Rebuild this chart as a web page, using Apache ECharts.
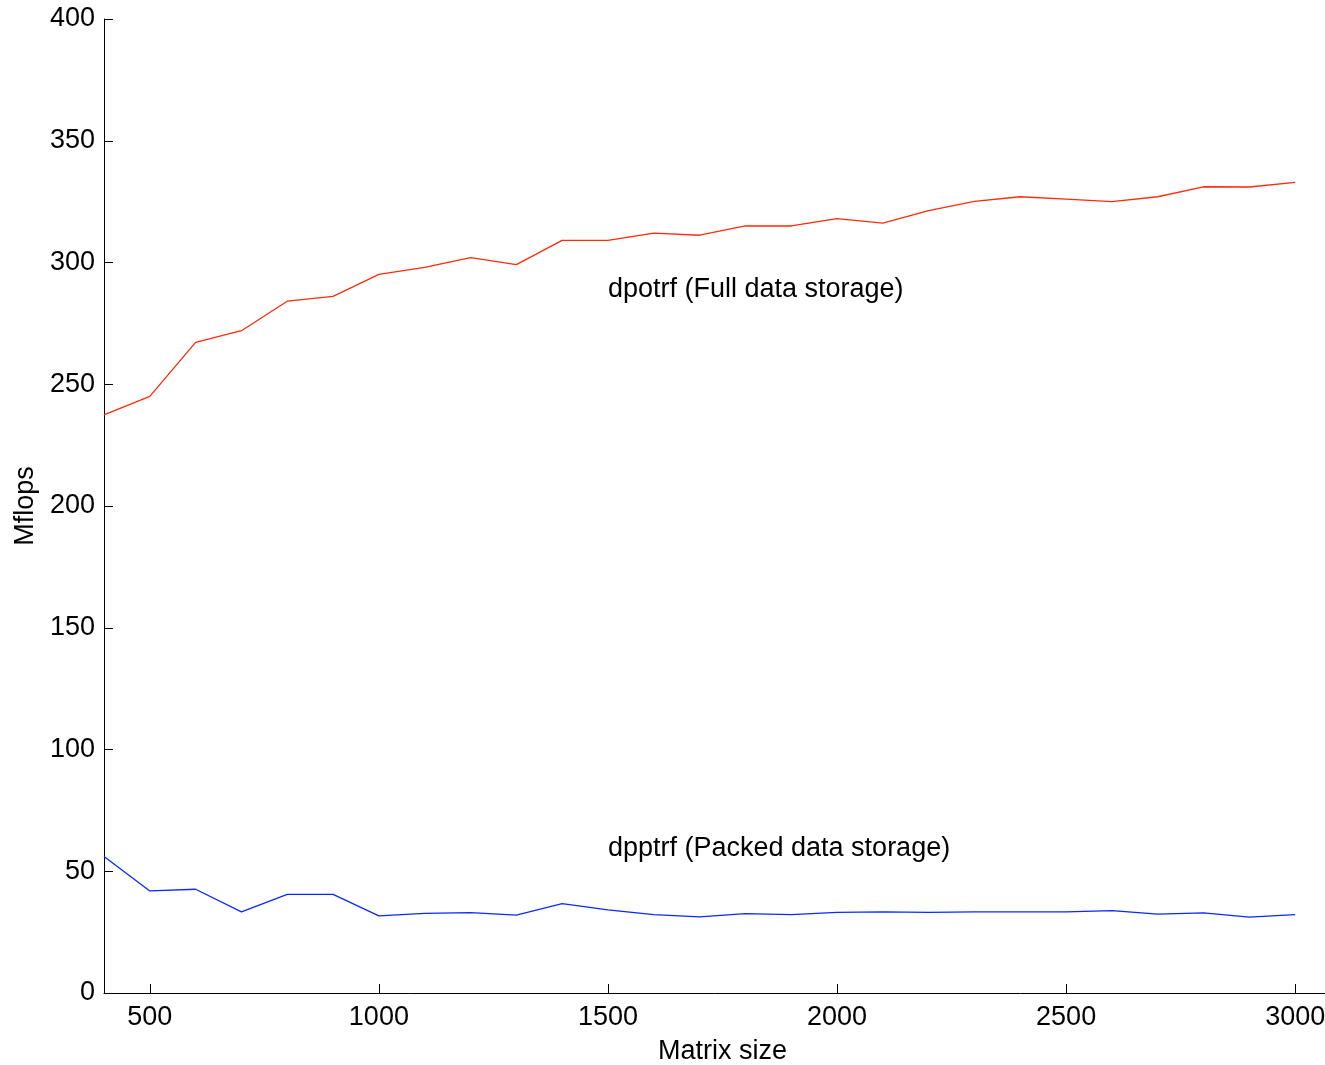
<!DOCTYPE html>
<html>
<head>
<meta charset="utf-8">
<script src="https://cdn.jsdelivr.net/npm/echarts@6/dist/echarts.min.js"></script>
<style>
  html, body { margin: 0; padding: 0; background: #fff; overflow: hidden; }
  #chart { width: 1325px; height: 1065px; }
</style>
</head>
<body>
<div id="chart"></div>
<script>
// Matrix sizes (order N of the symmetric positive definite matrix)
const matrixSizes = [400, 500, 600, 700, 800, 900, 1000, 1100, 1200, 1300, 1400, 1500, 1600, 1700,
  1800, 1900, 2000, 2100, 2200, 2300, 2400, 2500, 2600, 2700, 2800, 2900, 3000];

// Cholesky factorization rate, Mflops
const dpotrfMflops = [237.4, 245.0, 267.2, 272.0, 284.1, 286.1, 295.1, 298.0, 302.0, 299.1, 309.1, 309.1, 312.1, 311.2,
  315.0, 315.0, 318.0, 316.2, 321.3, 325.1, 327.0, 326.0, 325.0, 327.0, 331.1, 331.0, 332.9];
const dpptrfMflops = [56.1, 41.9, 42.6, 33.3, 40.5, 40.5, 31.7, 32.7, 33.0, 32.0, 36.7, 34.1, 32.2, 31.3,
  32.6, 32.2, 33.1, 33.3, 33.1, 33.3, 33.3, 33.3, 33.8, 32.4, 32.9, 31.2, 32.2];

// Axis ticks
const xTicks = [500, 1000, 1500, 2000, 2500, 3000];

// Curve annotations: [x, y, text]
const dpotrfNote = [1500, 289, 'dpotrf (Full data storage)'];
const dpptrfNote = [1500, 59.3, 'dpptrf (Packed data storage)'];

const FONT = 'Liberation Sans, Arial, Helvetica, sans-serif';
const FONT_SIZE = 27;
const AXIS_COLOR = '#000';

const chart = echarts.init(document.getElementById('chart'), null, { renderer: 'canvas' });

const pairs = (ys) => matrixSizes.map((x, i) => [x, ys[i]]);

const noteMark = (note) => ({
  silent: true,
  symbol: 'circle',
  symbolSize: 0,
  itemStyle: { color: 'rgba(0,0,0,0)' },
  label: {
    show: true,
    position: 'right',
    distance: 0,
    formatter: note[2],
    fontFamily: FONT,
    fontSize: FONT_SIZE,
    color: '#000'
  },
  data: [{ coord: [note[0], note[1]] }]
});

chart.setOption({
  animation: false,
  backgroundColor: '#fff',
  // the x range runs to 3100, a little past the right edge of the page
  grid: { left: 104, top: 19, right: -16, bottom: 72, containLabel: false, outerBoundsMode: 'none' },
  xAxis: {
    type: 'value',
    min: 400,
    max: 3100,
    name: 'Matrix size',
    nameLocation: 'middle',
    nameGap: 45,
    nameTextStyle: { fontFamily: FONT, fontSize: FONT_SIZE, color: '#000' },
    axisLine: { show: true, lineStyle: { color: AXIS_COLOR, width: 1 } },
    axisTick: { show: true, inside: true, length: 9, customValues: xTicks, lineStyle: { color: AXIS_COLOR, width: 1 } },
    axisLabel: {
      customValues: xTicks, margin: 11, fontFamily: FONT, fontSize: FONT_SIZE, color: '#000',
      formatter: v => String(v)
    },
    splitLine: { show: false }
  },
  yAxis: {
    type: 'value',
    min: 0,
    max: 400,
    interval: 50,
    name: 'Mflops',
    nameLocation: 'middle',
    nameGap: 58,
    nameTextStyle: { fontFamily: FONT, fontSize: FONT_SIZE, color: '#000' },
    axisLine: { show: true, lineStyle: { color: AXIS_COLOR, width: 1 } },
    axisTick: { show: true, inside: true, length: 9, lineStyle: { color: AXIS_COLOR, width: 1 } },
    axisLabel: { margin: 9, fontFamily: FONT, fontSize: FONT_SIZE, color: '#000', formatter: v => String(v) },
    splitLine: { show: false }
  },
  series: [
    {
      name: 'dpotrf',
      type: 'line',
      data: pairs(dpotrfMflops),
      showSymbol: false,
      lineStyle: { color: '#ff2a0a', width: 1.3 },
      itemStyle: { color: '#ff2a0a' },
      markPoint: noteMark(dpotrfNote)
    },
    {
      name: 'dpptrf',
      type: 'line',
      data: pairs(dpptrfMflops),
      showSymbol: false,
      lineStyle: { color: '#0a28ff', width: 1.3 },
      itemStyle: { color: '#0a28ff' },
      markPoint: noteMark(dpptrfNote)
    }
  ]
});
</script>
</body>
</html>
